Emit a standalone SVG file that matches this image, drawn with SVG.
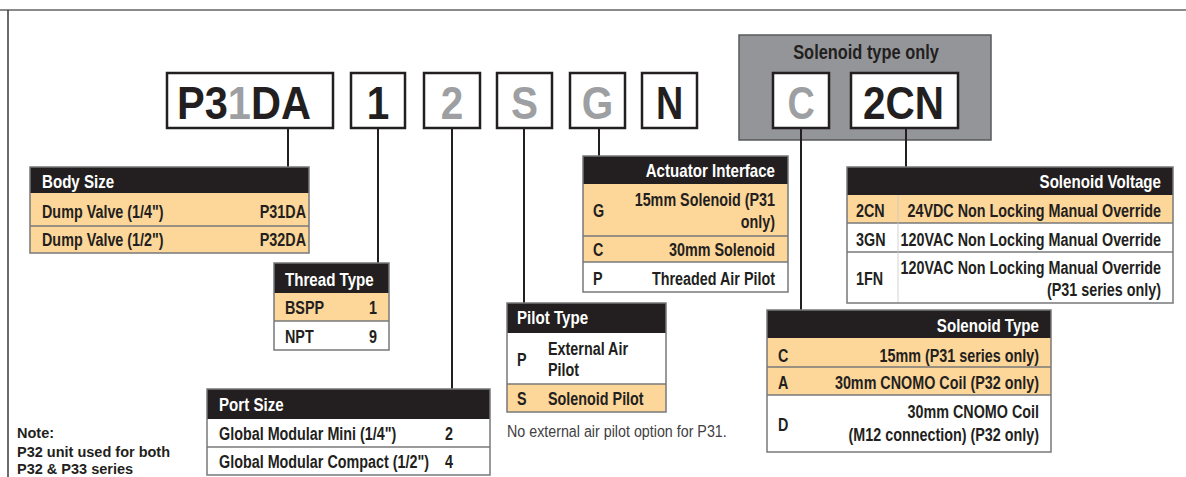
<svg xmlns="http://www.w3.org/2000/svg" width="1186" height="477" viewBox="0 0 1186 477">
<style>
text{font-family:"Liberation Sans",Arial,sans-serif;font-weight:700;fill:#231f20}
.big{font-size:46px}
.gr{fill:#9d9fa2}
.h{font-size:18px;fill:#fff}
.r{font-size:17.5px}
.e{text-anchor:end}
.m{text-anchor:middle}
.hdr{fill:#231f20}
.o{fill:#fdd699}
.w{fill:#fff}
.bd{fill:none;stroke:#77787b;stroke-width:1.5}
.sep{stroke:#77787b;stroke-width:1.5}
.cb{fill:#fff;stroke:#231f20;stroke-width:2.5}
.cn{stroke:#231f20;stroke-width:2;fill:none}
.note{font-size:14.5px}
.pn{font-weight:400;font-size:17px;fill:#414042}
</style>
<rect width="1186" height="477" fill="#fff"/>
<line x1="0" y1="10" x2="1186" y2="10" stroke="#8a8a8a" stroke-width="2"/>
<line x1="8" y1="10" x2="8" y2="477" stroke="#3a3a3a" stroke-width="1.5"/>

<g id="solenoid-group">
<rect x="739" y="35" width="252" height="105" fill="#939598" stroke="#58595b" stroke-width="1.5"/>
<text class="m" style="font-size:20px" transform="translate(866 59) scale(.82 1)">Solenoid type only</text>
</g>

<g id="connectors">
<path class="cn" d="M288 128V167M378 128V263M452 128V389M524 128V303M599 128V156M801 128V310M906 128V167"/>
</g>

<g id="code-body"><rect class="cb" x="167" y="73" width="166" height="55"/><text class="big" x="177" y="119" textLength="134" lengthAdjust="spacingAndGlyphs">P3<tspan class="gr">1</tspan>DA</text></g>
<g id="code-thread"><rect class="cb" x="351" y="73" width="54" height="55"/><text class="big m" transform="translate(378 119) scale(.88 1)">1</text></g>
<g id="code-port"><rect class="cb" x="424" y="73" width="56" height="55"/><text class="big m gr" transform="translate(452 119) scale(.88 1)">2</text></g>
<g id="code-pilot"><rect class="cb" x="497" y="73" width="55" height="55"/><text class="big m gr" transform="translate(524.5 119) scale(.88 1)">S</text></g>
<g id="code-actuator"><rect class="cb" x="570" y="73" width="55" height="55"/><text class="big m gr" transform="translate(597.5 119) scale(.88 1)">G</text></g>
<g id="code-n"><rect class="cb" x="642" y="73" width="55" height="55"/><text class="big m" transform="translate(669.5 119) scale(.82 1)">N</text></g>
<g id="code-soltype"><rect class="cb" x="773" y="73" width="56" height="55"/><text class="big m gr" transform="translate(801 119) scale(.82 1)">C</text></g>
<g id="code-voltage"><rect class="cb" x="851" y="73" width="107" height="55"/><text class="big" x="863" y="119" textLength="81" lengthAdjust="spacingAndGlyphs">2CN</text></g>

<g id="body-size">
<rect class="hdr" x="30" y="167" width="279" height="26"/>
<rect class="o" x="30" y="193" width="279" height="33"/>
<rect class="o" x="30" y="226" width="279" height="27"/>
<line class="sep" x1="30" y1="226" x2="309" y2="226"/>
<rect class="bd" x="30" y="167" width="279" height="86"/>
<text class="h" transform="translate(42 188) scale(.84 1)">Body Size</text>
<text class="r" transform="translate(42 218) scale(.82 1)">Dump Valve (1/4")</text>
<text class="r e" transform="translate(306 218) scale(.82 1)">P31DA</text>
<text class="r" transform="translate(42 246) scale(.82 1)">Dump Valve (1/2")</text>
<text class="r e" transform="translate(306 246) scale(.82 1)">P32DA</text>
</g>

<g id="thread-type">
<rect class="hdr" x="274" y="263" width="115" height="30"/>
<rect class="o" x="274" y="293" width="115" height="28"/>
<rect class="w" x="274" y="321" width="115" height="29"/>
<line class="sep" x1="274" y1="321" x2="389" y2="321"/>
<rect class="bd" x="274" y="263" width="115" height="87"/>
<text class="h" transform="translate(285 286) scale(.84 1)">Thread Type</text>
<text class="r" transform="translate(285 314) scale(.82 1)">BSPP</text>
<text class="r e" transform="translate(377 314) scale(.82 1)">1</text>
<text class="r" transform="translate(285 343) scale(.82 1)">NPT</text>
<text class="r e" transform="translate(377 343) scale(.82 1)">9</text>
</g>

<g id="port-size">
<rect class="hdr" x="207" y="389" width="283" height="30"/>
<rect class="w" x="207" y="419" width="283" height="56"/>
<line class="sep" x1="207" y1="447" x2="490" y2="447"/>
<rect class="bd" x="207" y="389" width="283" height="86"/>
<text class="h" transform="translate(219 411) scale(.84 1)">Port Size</text>
<text class="r" transform="translate(219 440) scale(.82 1)">Global Modular Mini (1/4")</text>
<text class="r" transform="translate(445 440) scale(.82 1)">2</text>
<text class="r" transform="translate(219 468) scale(.82 1)">Global Modular Compact (1/2")</text>
<text class="r" transform="translate(445 468) scale(.82 1)">4</text>
</g>

<g id="pilot-type">
<rect class="hdr" x="507" y="303" width="159" height="30"/>
<rect class="w" x="507" y="333" width="159" height="51"/>
<rect class="o" x="507" y="384" width="159" height="28"/>
<line class="sep" x1="507" y1="384" x2="666" y2="384"/>
<rect class="bd" x="507" y="303" width="159" height="109"/>
<text class="h" transform="translate(517 324) scale(.84 1)">Pilot Type</text>
<text class="r" transform="translate(517 366) scale(.82 1)">P</text>
<text class="r" transform="translate(548 355) scale(.82 1)">External Air</text>
<text class="r" transform="translate(548 376) scale(.82 1)">Pilot</text>
<text class="r" transform="translate(517 405) scale(.82 1)">S</text>
<text class="r" transform="translate(548 405) scale(.82 1)">Solenoid Pilot</text>
<text class="pn" transform="translate(507 437) scale(.84 1)">No external air pilot option for P31.</text>
</g>

<g id="actuator-interface">
<rect class="hdr" x="583" y="156" width="205" height="28"/>
<rect class="o" x="583" y="184" width="205" height="78"/>
<rect class="w" x="583" y="262" width="205" height="30"/>
<line class="sep" x1="583" y1="236" x2="788" y2="236"/>
<line class="sep" x1="583" y1="262" x2="788" y2="262"/>
<rect class="bd" x="583" y="156" width="205" height="136"/>
<text class="h e" transform="translate(775 177) scale(.84 1)">Actuator Interface</text>
<text class="r" transform="translate(593 217) scale(.82 1)">G</text>
<text class="r e" transform="translate(775 206) scale(.82 1)">15mm Solenoid (P31</text>
<text class="r e" transform="translate(775 228) scale(.82 1)">only)</text>
<text class="r" transform="translate(593 256) scale(.82 1)">C</text>
<text class="r e" transform="translate(775 256) scale(.82 1)">30mm Solenoid</text>
<text class="r" transform="translate(593 285) scale(.82 1)">P</text>
<text class="r e" transform="translate(775 285) scale(.82 1)">Threaded Air Pilot</text>
</g>

<g id="solenoid-voltage">
<rect class="hdr" x="847" y="167" width="326" height="28"/>
<rect class="o" x="847" y="195" width="326" height="28"/>
<rect class="w" x="847" y="223" width="326" height="80"/>
<line class="sep" x1="847" y1="223" x2="1173" y2="223"/>
<line class="sep" x1="847" y1="252" x2="1173" y2="252"/>
<line x1="898" y1="195" x2="898" y2="303" stroke="#c8c8c8" stroke-width="0.8"/>
<rect class="bd" x="847" y="167" width="326" height="136"/>
<text class="h e" transform="translate(1161 188) scale(.84 1)">Solenoid Voltage</text>
<text class="r" transform="translate(856 217) scale(.82 1)">2CN</text>
<text class="r e" transform="translate(1161 217) scale(.82 1)">24VDC Non Locking Manual Override</text>
<text class="r" transform="translate(856 246) scale(.82 1)">3GN</text>
<text class="r e" transform="translate(1161 246) scale(.82 1)">120VAC Non Locking Manual Override</text>
<text class="r" transform="translate(856 285) scale(.82 1)">1FN</text>
<text class="r e" transform="translate(1161 274) scale(.82 1)">120VAC Non Locking Manual Override</text>
<text class="r e" transform="translate(1161 296) scale(.82 1)">(P31 series only)</text>
</g>

<g id="solenoid-type">
<rect class="hdr" x="767" y="310" width="284" height="28"/>
<rect class="o" x="767" y="338" width="284" height="57"/>
<rect class="w" x="767" y="395" width="284" height="57"/>
<line class="sep" x1="767" y1="367" x2="1051" y2="367"/>
<line class="sep" x1="767" y1="395" x2="1051" y2="395"/>
<rect class="bd" x="767" y="310" width="284" height="142"/>
<text class="h e" transform="translate(1039 332) scale(.84 1)">Solenoid Type</text>
<text class="r" transform="translate(778 362) scale(.82 1)">C</text>
<text class="r e" transform="translate(1039 362) scale(.82 1)">15mm (P31 series only)</text>
<text class="r" transform="translate(778 389) scale(.82 1)">A</text>
<text class="r e" transform="translate(1039 389) scale(.82 1)">30mm CNOMO Coil (P32 only)</text>
<text class="r" transform="translate(778 431) scale(.82 1)">D</text>
<text class="r e" transform="translate(1039 418) scale(.82 1)">30mm CNOMO Coil</text>
<text class="r e" transform="translate(1039 441) scale(.82 1)">(M12 connection) (P32 only)</text>
</g>

<g id="note">
<text class="note" x="17" y="438">Note:</text>
<text class="note" x="17" y="457">P32 unit used for both</text>
<text class="note" x="17" y="474">P32 &amp; P33 series</text>
</g>
</svg>
